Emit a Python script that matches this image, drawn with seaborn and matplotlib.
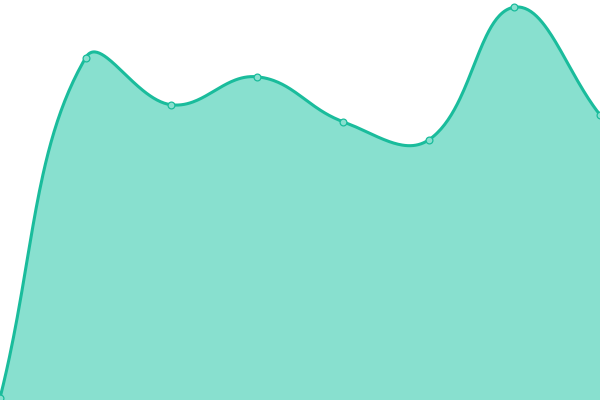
import numpy as np
import pandas as pd
import matplotlib
matplotlib.use("Agg")
import matplotlib.pyplot as plt
import seaborn as sns

# Data (y on a 0-100 scale)
steps = [0, 1, 2, 3, 4, 5, 6, 7]
values = [0.5, 85.6, 73.8, 80.8, 69.6, 65.0, 98.2, 71.3]

line_color = "#1abc9c"
fill_color = "#88e0cf"


def spline(xs, ys, tension=0.4, n=60):
    # distance-weighted bezier smoothing, distances measured in screen pixels
    sx_px, sy_px = 600 / 7, 4.0
    P = np.column_stack([np.asarray(xs, float) * sx_px, np.asarray(ys, float) * sy_px])
    k = len(P)
    prev_c, next_c = [], []
    for i in range(k):
        a = P[max(i - 1, 0)]
        b = P[i]
        c = P[min(i + 1, k - 1)]
        d01 = np.hypot(*(b - a))
        d12 = np.hypot(*(c - b))
        tot = d01 + d12
        fa = tension * d01 / tot if tot else 0
        fb = tension * d12 / tot if tot else 0
        prev_c.append(b - fa * (c - a))
        next_c.append(b + fb * (c - a))
    t = np.linspace(0, 1, n)[:, None]
    pts = []
    for i in range(k - 1):
        p1, b1, b2, p2 = P[i], next_c[i], prev_c[i + 1], P[i + 1]
        seg = (1 - t) ** 3 * p1 + 3 * (1 - t) ** 2 * t * b1 + 3 * (1 - t) * t ** 2 * b2 + t ** 3 * p2
        pts.append(seg)
    pts = np.vstack(pts)
    return pts[:, 0] / sx_px, pts[:, 1] / sy_px


df = pd.DataFrame({"step": steps, "value": values})
sx, sy = spline(df["step"].values, df["value"].values)
smooth = pd.DataFrame({"step": sx, "value": sy})

sns.set_style("white")
fig = plt.figure(figsize=(6, 4), dpi=100)
ax = fig.add_axes([0, 0, 1, 1])

ax.fill_between(smooth["step"], smooth["value"], 0, color=fill_color, linewidth=0)
sns.lineplot(data=smooth, x="step", y="value", ax=ax, color=line_color,
             linewidth=2.2, sort=False)
sns.scatterplot(data=df, x="step", y="value", ax=ax, s=24, color=fill_color,
                edgecolor=line_color, linewidth=0.9, zorder=5)

ax.set_xlim(0, 7)
ax.set_ylim(0, 100)
ax.axis("off")

fig.savefig("out.png", dpi=100)
